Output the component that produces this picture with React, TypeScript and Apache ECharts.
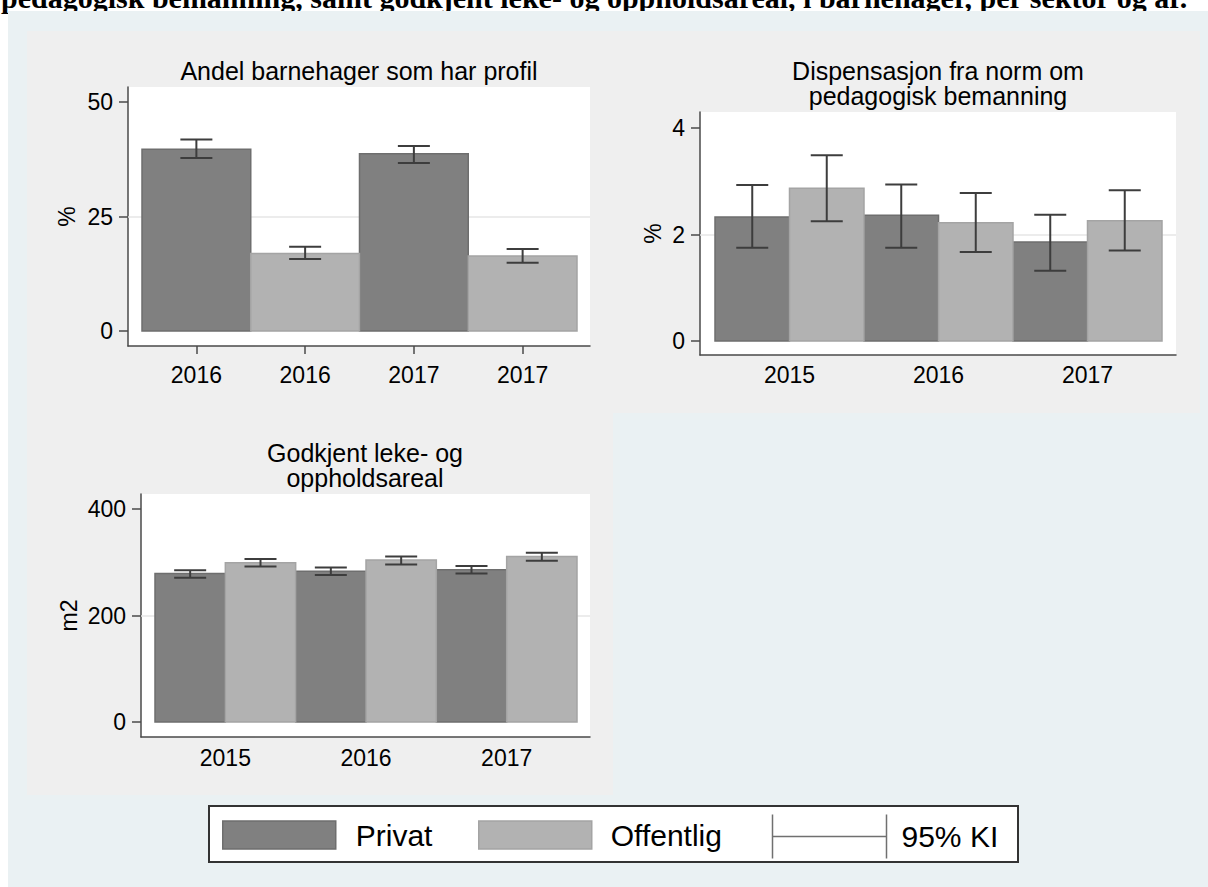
import React, { useEffect, useRef } from 'react';
import * as echarts from 'echarts';

// ---------- Data ----------
const pageTitle =
  'pedagogisk bemanning, samt godkjent leke- og oppholdsareal, i barnehager, per sektor og år.';

// Panel 1: Andel barnehager som har profil (%)
const profilTitle = ['Andel barnehager som har profil'];
const profilLabels = ['2016', '2016', '2017', '2017'];
const profilSector = ['Privat', 'Offentlig', 'Privat', 'Offentlig'];
const profilValue = [39.7, 16.9, 38.7, 16.4];
const profilLow = [37.8, 15.7, 36.7, 14.9];
const profilHigh = [41.8, 18.4, 40.4, 17.9];
const profilTicks = [0, 25, 50];

// Panel 2: Dispensasjon fra norm om pedagogisk bemanning (%)
const dispTitle = ['Dispensasjon fra norm om', 'pedagogisk bemanning'];
const dispYears = ['2015', '2016', '2017'];
const dispPrivat = [2.33, 2.36, 1.86];
const dispPrivatLow = [1.75, 1.75, 1.32];
const dispPrivatHigh = [2.93, 2.94, 2.37];
const dispOffentlig = [2.87, 2.22, 2.26];
const dispOffentligLow = [2.25, 1.67, 1.7];
const dispOffentligHigh = [3.49, 2.78, 2.83];
const dispTicks = [0, 2, 4];

// Panel 3: Godkjent leke- og oppholdsareal (m2)
const arealTitle = ['Godkjent leke- og', 'oppholdsareal'];
const arealYears = ['2015', '2016', '2017'];
const arealPrivat = [279, 283, 286];
const arealPrivatLow = [271, 276, 279];
const arealPrivatHigh = [285, 290, 293];
const arealOffentlig = [299, 304, 311];
const arealOffentligLow = [292, 296, 303];
const arealOffentligHigh = [306, 311, 318];
const arealTicks = [0, 200, 400];

const legendNames = ['Privat', 'Offentlig', '95% KI'];

// ---------- Styles / layout ----------
const W = 1208;
const H = 887;
const FONT = 'Liberation Sans';
const PRIVAT_FILL = '#808080';
const PRIVAT_EDGE = '#6e6e6e';
const OFF_FILL = '#b2b2b2';
const OFF_EDGE = '#a4a4a4';
const ERR_C = '#3d3d3d';
const AXIS_C = '#4a4a4a';
const GRID_C = '#e6e6e6';
const OUTER_BG = '#eaf1f3';
const PANEL_BG = '#efefef';

type Geom = {
  l: number; t: number; r: number; b: number;
  y0: number; yTop: number; barsL: number; barsR: number;
  titleX: number; titleY: number;
  xLabelMargin: number; xTicks: boolean; yName: string; yNameGap: number;
};

const GEOMS: Geom[] = [
  { l: 128, t: 87, r: 590, b: 346, y0: 331, yTop: 102, barsL: 142, barsR: 577, titleX: 359, titleY: 71, xLabelMargin: 17, xTicks: true, yName: '%', yNameGap: 50 },
  { l: 700, t: 112, r: 1176, b: 355, y0: 341, yTop: 128, barsL: 715, barsR: 1162, titleX: 938, titleY: 71, xLabelMargin: 8, xTicks: false, yName: '%', yNameGap: 36 },
  { l: 141, t: 494, r: 590, b: 737, y0: 722, yTop: 509, barsL: 155, barsR: 577, titleX: 365, titleY: 453, xLabelMargin: 9, xTicks: false, yName: 'm2', yNameGap: 61 },
];
const TITLE_LINE_GAP = 25;

type PanelData = {
  title: string[];
  labels: string[];
  ticks: number[];
  halfWidth: number;
  privat: number[][];
  offentlig: number[][];
  errors: number[][];
};

function buildPanels(): PanelData[] {
  const p1Privat: number[][] = [];
  const p1Off: number[][] = [];
  const p1Err: number[][] = [];
  profilValue.forEach((v, i) => {
    if (profilSector[i] === 'Privat') p1Privat.push([i, v]);
    else p1Off.push([i, v]);
    p1Err.push([i, profilLow[i], profilHigh[i]]);
  });

  const pair = (
    years: string[], pv: number[], pl: number[], ph: number[], ov: number[], ol: number[], oh: number[]
  ) => {
    const privat: number[][] = [];
    const off: number[][] = [];
    const err: number[][] = [];
    years.forEach((_, j) => {
      privat.push([j - 0.25, pv[j]]);
      off.push([j + 0.25, ov[j]]);
      err.push([j - 0.25, pl[j], ph[j]]);
      err.push([j + 0.25, ol[j], oh[j]]);
    });
    return { privat, off, err };
  };
  const p2 = pair(dispYears, dispPrivat, dispPrivatLow, dispPrivatHigh, dispOffentlig, dispOffentligLow, dispOffentligHigh);
  const p3 = pair(arealYears, arealPrivat, arealPrivatLow, arealPrivatHigh, arealOffentlig, arealOffentligLow, arealOffentligHigh);

  return [
    { title: profilTitle, labels: profilLabels, ticks: profilTicks, halfWidth: 0.5, privat: p1Privat, offentlig: p1Off, errors: p1Err },
    { title: dispTitle, labels: dispYears, ticks: dispTicks, halfWidth: 0.25, privat: p2.privat, offentlig: p2.off, errors: p2.err },
    { title: arealTitle, labels: arealYears, ticks: arealTicks, halfWidth: 0.25, privat: p3.privat, offentlig: p3.off, errors: p3.err },
  ];
}

function barRenderer(hw: number, fill: string, stroke: string) {
  return (_params: any, api: any) => {
    const x = api.value(0);
    const v = api.value(1);
    const p0 = api.coord([x - hw, v]);
    const p1 = api.coord([x + hw, 0]);
    return {
      type: 'rect',
      shape: { x: p0[0], y: p0[1], width: p1[0] - p0[0], height: p1[1] - p0[1] },
      style: { fill, stroke, lineWidth: 1.5 },
    };
  };
}

function errRenderer(_params: any, api: any) {
  const x = api.value(0);
  const pLo = api.coord([x, api.value(1)]);
  const pHi = api.coord([x, api.value(2)]);
  const c = 16;
  const style = { stroke: ERR_C, lineWidth: 2 };
  return {
    type: 'group',
    children: [
      { type: 'line', shape: { x1: pLo[0], y1: pLo[1], x2: pHi[0], y2: pHi[1] }, style },
      { type: 'line', shape: { x1: pHi[0] - c, y1: pHi[1], x2: pHi[0] + c, y2: pHi[1] }, style },
      { type: 'line', shape: { x1: pLo[0] - c, y1: pLo[1], x2: pLo[0] + c, y2: pLo[1] }, style },
    ],
  };
}

function buildOption() {
  const panels = buildPanels();
  const grid: any[] = [];
  const xAxis: any[] = [];
  const yAxis: any[] = [];
  const series: any[] = [];
  const graphic: any[] = [];

  graphic.push({
    type: 'text', x: 1, y: -3, z: -3,
    style: { text: pageTitle, font: 'bold 30px "Liberation Serif"', fill: '#000', align: 'left', verticalAlign: 'middle' },
  });
  graphic.push({ type: 'rect', z: -2, shape: { x: 8, y: 11, width: W - 8, height: H - 11 }, style: { fill: OUTER_BG } });
  graphic.push({ type: 'rect', z: -1, shape: { x: 27, y: 31, width: 1173, height: 382 }, style: { fill: PANEL_BG } });
  graphic.push({ type: 'rect', z: -1, shape: { x: 27, y: 413, width: 586, height: 382 }, style: { fill: PANEL_BG } });
  graphic.push({ type: 'rect', z: 1, shape: { x: 209, y: 806, width: 809, height: 56 }, style: { fill: '#fff', stroke: '#333', lineWidth: 2 } });

  panels.forEach((p, i) => {
    const g = GEOMS[i];
    const n = p.labels.length;
    const ppu = (g.barsR - g.barsL) / n;
    const xMin = -0.5 - (g.barsL - g.l) / ppu;
    const xMax = n - 0.5 + (g.r - g.barsR) / ppu;
    const yTopVal = p.ticks[p.ticks.length - 1];
    const ppv = (g.y0 - g.yTop) / yTopVal;
    const yMin = -(g.b - g.y0) / ppv;
    const yMax = (g.y0 - g.t) / ppv;
    const xVals = p.labels.map((_, k) => k);

    grid.push({
      left: g.l, top: g.t, width: g.r - g.l, height: g.b - g.t,
      show: true, backgroundColor: '#fff', borderWidth: 0, containLabel: false,
    });
    xAxis.push({
      type: 'value', gridIndex: i, min: xMin, max: xMax,
      axisLine: { show: true, onZero: false, lineStyle: { color: AXIS_C, width: 1.5 } },
      axisTick: { show: g.xTicks, customValues: xVals, length: 8, lineStyle: { color: AXIS_C, width: 1.5 } },
      axisLabel: {
        show: true, customValues: xVals, margin: g.xLabelMargin,
        formatter: (v: number) => p.labels[Math.round(v)] ?? '',
        color: '#000', fontSize: 23, fontFamily: FONT,
      },
      splitLine: { show: false },
    });
    yAxis.push({
      type: 'value', gridIndex: i, min: yMin, max: yMax,
      name: g.yName, nameLocation: 'middle', nameRotate: 90, nameGap: g.yNameGap,
      nameTextStyle: { color: '#000', fontSize: 23, fontFamily: FONT },
      axisLine: { show: true, onZero: false, lineStyle: { color: AXIS_C, width: 1.5 } },
      axisTick: { show: true, customValues: p.ticks, length: 9, lineStyle: { color: AXIS_C, width: 1.5 } },
      axisLabel: { show: true, customValues: p.ticks, margin: 15, color: '#000', fontSize: 23, fontFamily: FONT },
      splitLine: { show: false },
    });

    series.push({
      type: 'line', name: 'grid' + i, data: [], xAxisIndex: i, yAxisIndex: i, z: 1, silent: true,
      markLine: {
        z: 1, silent: true, symbol: ['none', 'none'], label: { show: false }, animation: false,
        lineStyle: { color: GRID_C, width: 1.5, type: 'solid' },
        data: [{ yAxis: p.ticks[1] }],
      },
    });
    series.push({
      type: 'custom', name: 'Privat', xAxisIndex: i, yAxisIndex: i, z: 3,
      data: p.privat, encode: { x: 0, y: 1 },
      itemStyle: { color: PRIVAT_FILL },
      renderItem: barRenderer(p.halfWidth, PRIVAT_FILL, PRIVAT_EDGE),
    });
    series.push({
      type: 'custom', name: 'Offentlig', xAxisIndex: i, yAxisIndex: i, z: 3,
      data: p.offentlig, encode: { x: 0, y: 1 },
      itemStyle: { color: OFF_FILL },
      renderItem: barRenderer(p.halfWidth, OFF_FILL, OFF_EDGE),
    });
    series.push({
      type: 'custom', name: '95% KI', xAxisIndex: i, yAxisIndex: i, z: 4,
      data: p.errors, encode: { x: 0, y: [1, 2] },
      itemStyle: { color: ERR_C },
      renderItem: errRenderer,
    });

    p.title.forEach((line, k) => {
      graphic.push({
        type: 'text', x: g.titleX, y: g.titleY + k * TITLE_LINE_GAP, z: 5,
        style: {
          text: line, font: `25px "${FONT}"`, fill: '#000',
          align: 'center', verticalAlign: 'middle',
        },
      });
    });
  });

  const legendText = { color: '#000', fontSize: 30, fontFamily: FONT };
  const legend = [
    {
      left: 222, top: 820, padding: 0, itemWidth: 113, itemHeight: 28, selectedMode: false,
      textStyle: { ...legendText, padding: [0, 0, 0, 15] },
      data: [{ name: legendNames[0], icon: 'rect', itemStyle: { color: PRIVAT_FILL, borderColor: PRIVAT_EDGE, borderWidth: 1.5 } }],
    },
    {
      left: 478, top: 820, padding: 0, itemWidth: 113, itemHeight: 28, selectedMode: false,
      textStyle: { ...legendText, padding: [0, 0, 0, 14] },
      data: [{ name: legendNames[1], icon: 'rect', itemStyle: { color: OFF_FILL, borderColor: OFF_EDGE, borderWidth: 1.5 } }],
    },
    {
      left: 770, top: 812, padding: 0, itemWidth: 114, itemHeight: 44, selectedMode: false,
      textStyle: { ...legendText, padding: [0, 0, 0, 10] },
      data: [{
        name: legendNames[2], icon: 'path://M0,0V44M0,22H114M114,0V44',
        itemStyle: { color: 'none', borderColor: '#707070', borderWidth: 1.5 },
      }],
    },
  ];

  return {
    animation: false,
    backgroundColor: '#fff',
    textStyle: { fontFamily: FONT },
    grid, xAxis, yAxis, series, graphic, legend,
  };
}

export default function App() {
  const ref = useRef<HTMLDivElement>(null);
  useEffect(() => {
    document.body.style.margin = '0';
    const chart = echarts.init(ref.current!, null, { renderer: 'svg', width: W, height: H });
    chart.setOption(buildOption() as any);
    return () => chart.dispose();
  }, []);
  return (
    <div
      ref={ref}
      style={{ position: 'absolute', left: 0, top: 0, width: W, height: H, overflow: 'hidden' }}
    />
  );
}
